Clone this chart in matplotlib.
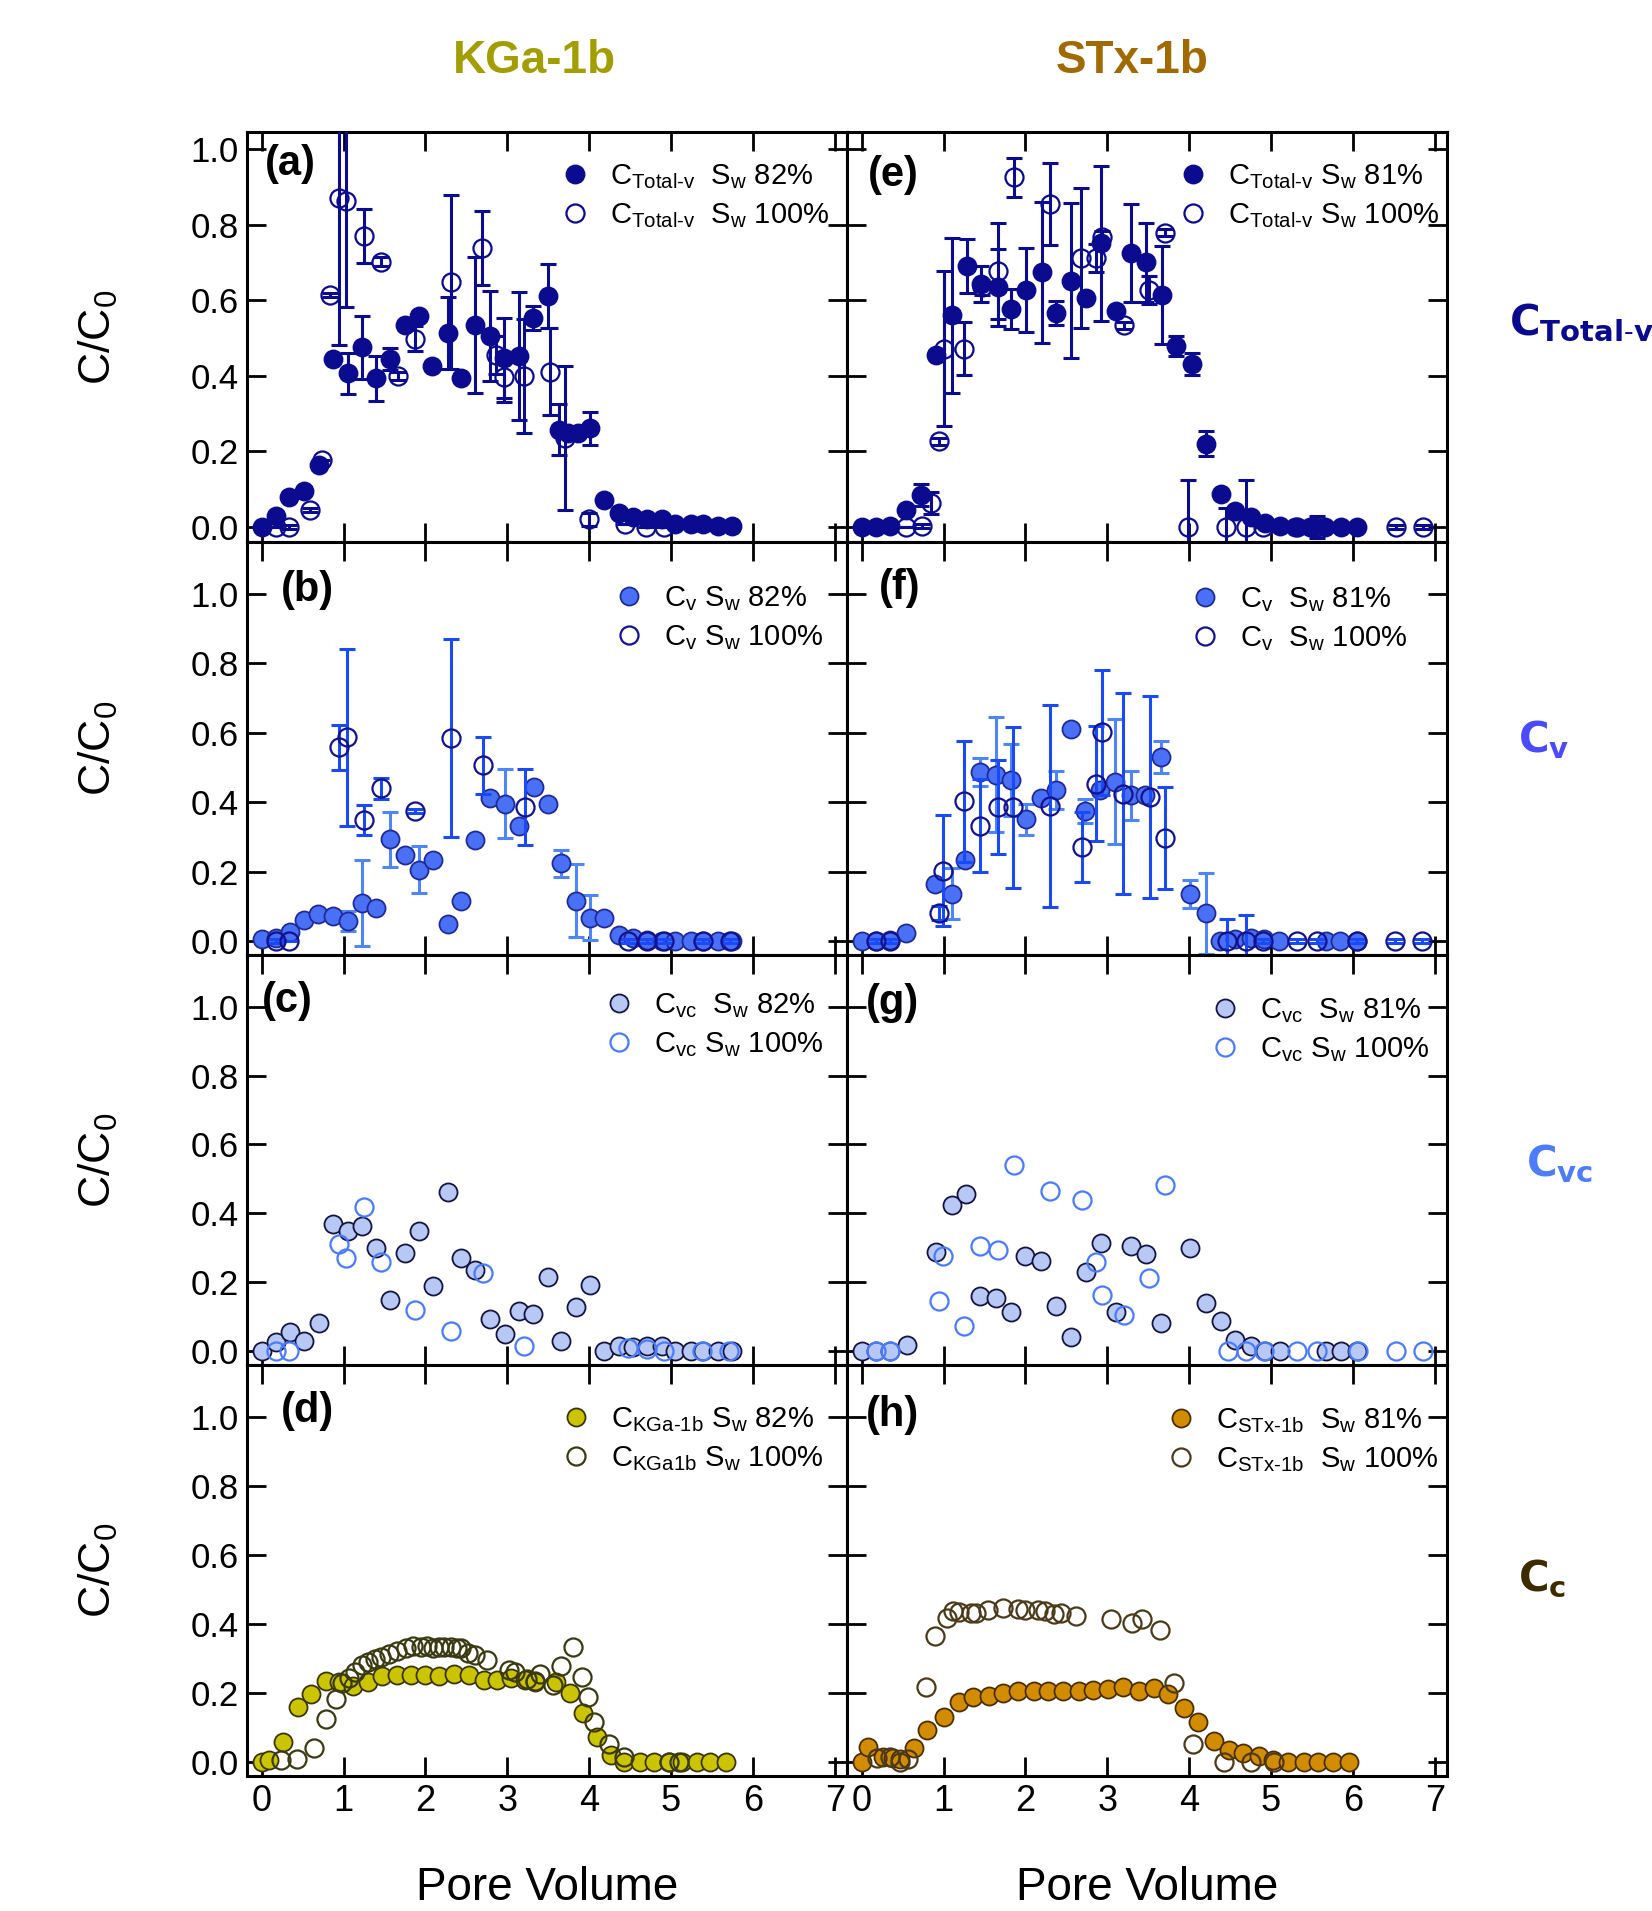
import matplotlib
matplotlib.use("Agg")
import matplotlib.pyplot as plt
from matplotlib.lines import Line2D
import numpy as np

plt.rcParams['font.family'] = ['Liberation Sans', 'DejaVu Sans']
plt.rcParams['mathtext.fontset'] = 'custom'
plt.rcParams['mathtext.rm'] = 'Liberation Sans'
plt.rcParams['mathtext.it'] = 'Liberation Sans:italic'
plt.rcParams['mathtext.bf'] = 'Liberation Sans:bold'
plt.rcParams['mathtext.default'] = 'regular'

# ---------------- data ----------------
# (a) KGa-1b C_Total-v
xa_f = [0.00, 0.18, 0.33, 0.52, 0.70, 0.87, 1.05, 1.22, 1.39, 1.57, 1.75, 1.92, 2.08, 2.27, 2.44, 2.61, 2.79, 2.96, 3.14, 3.31, 3.50, 3.63, 3.74, 3.86, 4.01, 4.18, 4.36, 4.53, 4.71, 4.89, 5.05, 5.24, 5.39, 5.58, 5.75]
ya_f = [0.00, 0.03, 0.08, 0.095, 0.165, 0.444, 0.406, 0.475, 0.393, 0.444, 0.533, 0.557, 0.426, 0.513, 0.393, 0.535, 0.505, 0.447, 0.453, 0.553, 0.612, 0.257, 0.248, 0.248, 0.261, 0.071, 0.038, 0.025, 0.022, 0.02, 0.007, 0.007, 0.007, 0.003, 0.003]
ea_f = [0, 0, 0, 0, 0, 0, 0.054, 0.084, 0.06, 0.03, 0, 0, 0, 0.095, 0, 0.18, 0.118, 0.105, 0.169, 0.032, 0.085, 0.068, 0, 0, 0.043, 0, 0, 0, 0, 0, 0, 0, 0, 0, 0]
xa_o = [0.18, 0.33, 0.59, 0.74, 0.84, 0.94, 1.03, 1.25, 1.46, 1.66, 1.87, 2.31, 2.69, 2.86, 2.96, 3.21, 3.52, 3.70, 4.00, 4.44, 4.70, 4.91]
ya_o = [0.0, 0.0, 0.044, 0.178, 0.614, 0.871, 0.862, 0.770, 0.702, 0.40, 0.498, 0.647, 0.738, 0.454, 0.397, 0.399, 0.41, 0.235, 0.02, 0.007, 0.0, 0.0]
ea_o = [0, 0.005, 0.005, 0, 0.005, 0.39, 0.28, 0.072, 0.011, 0.011, 0.033, 0.23, 0.098, 0.05, 0.066, 0.15, 0.115, 0.19, 0.018, 0, 0, 0]

# (e) STx-1b C_Total-v
xe_f = [0.0, 0.17, 0.35, 0.54, 0.72, 0.91, 1.10, 1.28, 1.46, 1.66, 1.82, 2.01, 2.20, 2.37, 2.56, 2.74, 2.92, 3.11, 3.29, 3.47, 3.67, 3.84, 4.03, 4.20, 4.39, 4.56, 4.75, 4.93, 5.11, 5.29, 5.48, 5.66, 5.85, 6.05]
ye_f = [0.0, 0.0, 0.003, 0.044, 0.084, 0.454, 0.56, 0.691, 0.643, 0.634, 0.577, 0.627, 0.674, 0.566, 0.652, 0.605, 0.75, 0.570, 0.724, 0.70, 0.614, 0.479, 0.432, 0.220, 0.086, 0.042, 0.025, 0.01, 0.003, 0.0, 0.0, 0.0, 0.0, 0.0]
ee_f = [0, 0, 0, 0, 0.03, 0, 0.205, 0.071, 0.048, 0.102, 0.053, 0.11, 0.187, 0.032, 0.205, 0, 0.204, 0, 0.13, 0.104, 0.13, 0.026, 0.029, 0.033, 0, 0, 0, 0, 0, 0, 0.015, 0, 0, 0]
xe_o = [0.54, 0.74, 0.85, 0.94, 1.00, 1.25, 1.47, 1.67, 1.86, 2.30, 2.68, 2.86, 2.94, 3.20, 3.51, 3.71, 3.99, 4.45, 4.70, 4.90, 5.32, 5.56, 6.53, 6.86]
ye_o = [0.0, 0.003, 0.064, 0.226, 0.472, 0.472, 0.634, 0.678, 0.925, 0.854, 0.711, 0.711, 0.766, 0.533, 0.627, 0.779, 0.0, 0.0, 0.0, 0.0, 0.0, 0.0, 0.0, 0.0]
ee_o = [0, 0.005, 0.029, 0.008, 0.205, 0.07, 0.02, 0.127, 0.052, 0.109, 0.186, 0.037, 0.018, 0.01, 0.037, 0.01, 0.125, 0.05, 0.125, 0, 0.01, 0.03, 0.005, 0.005]

# (b) KGa-1b C_v
xb_f = [0.0, 0.18, 0.35, 0.52, 0.69, 0.87, 1.05, 1.22, 1.39, 1.57, 1.75, 1.92, 2.09, 2.27, 2.44, 2.61, 2.79, 2.97, 3.14, 3.33, 3.50, 3.66, 3.84, 4.01, 4.18, 4.36, 4.54, 4.71, 4.89, 5.05, 5.24, 5.39, 5.57, 5.75]
yb_f = [0.005, 0.008, 0.027, 0.061, 0.079, 0.072, 0.058, 0.111, 0.094, 0.293, 0.248, 0.206, 0.235, 0.048, 0.116, 0.292, 0.411, 0.396, 0.333, 0.443, 0.394, 0.224, 0.116, 0.068, 0.068, 0.019, 0.01, 0.002, 0.0, 0.0, 0.0, 0.0, 0.0, 0.0]
eb_f = [0, 0, 0, 0, 0, 0, 0.03, 0.124, 0, 0.08, 0, 0.067, 0, 0, 0, 0, 0, 0.099, 0, 0, 0, 0.038, 0.105, 0.065, 0, 0, 0, 0, 0, 0, 0, 0, 0, 0]
xb_o = [0.18, 0.33, 0.94, 1.04, 1.25, 1.46, 1.87, 2.31, 2.70, 3.22, 4.48, 4.71, 4.92, 5.39, 5.72]
yb_o = [0.0, 0.0, 0.558, 0.587, 0.348, 0.44, 0.375, 0.585, 0.507, 0.386, 0.0, 0.0, 0.0, 0.0, 0.0]
eb_o = [0.005, 0, 0.066, 0.255, 0.043, 0.03, 0.006, 0.285, 0.082, 0.11, 0.005, 0.005, 0.005, 0.005, 0.005]

# (f) STx-1b C_v
xf_f = [0.0, 0.17, 0.34, 0.54, 0.90, 1.10, 1.26, 1.45, 1.64, 1.82, 2.01, 2.19, 2.37, 2.56, 2.73, 2.91, 3.10, 3.29, 3.46, 3.65, 4.01, 4.20, 4.38, 4.56, 4.75, 4.92, 5.10, 5.67, 5.84, 6.05]
yf_f = [0.0, 0.0, 0.003, 0.024, 0.164, 0.137, 0.235, 0.488, 0.48, 0.464, 0.351, 0.413, 0.435, 0.611, 0.374, 0.435, 0.459, 0.42, 0.42, 0.531, 0.135, 0.08, 0.0, 0.005, 0.01, 0.005, 0.0, 0.0, 0.0, 0.0]
ef_f = [0, 0, 0, 0, 0, 0.074, 0, 0.041, 0.166, 0.104, 0.044, 0, 0.054, 0, 0.035, 0, 0.18, 0.07, 0, 0.046, 0.04, 0.116, 0, 0, 0, 0, 0, 0, 0, 0]
xf_o = [0.17, 0.34, 0.94, 0.99, 1.25, 1.45, 1.66, 1.85, 2.30, 2.69, 2.86, 2.93, 3.19, 3.52, 3.70, 4.46, 4.70, 4.90, 5.32, 5.56, 6.05, 6.52, 6.85]
yf_o = [0.0, 0.0, 0.082, 0.203, 0.403, 0.333, 0.386, 0.386, 0.389, 0.271, 0.454, 0.602, 0.425, 0.415, 0.297, 0.0, 0.0, 0.0, 0.0, 0.0, 0.0, 0.0, 0.0]
ef_o = [0.005, 0.005, 0.02, 0.16, 0.174, 0.135, 0.135, 0.232, 0.292, 0.1, 0.165, 0.18, 0.29, 0.292, 0.146, 0.065, 0.075, 0.005, 0.005, 0.005, 0.005, 0.005, 0.005]

# (c) KGa-1b C_vc
xc_f = [0.0, 0.18, 0.35, 0.52, 0.70, 0.87, 1.05, 1.22, 1.39, 1.57, 1.75, 1.92, 2.09, 2.27, 2.44, 2.61, 2.79, 2.97, 3.14, 3.31, 3.50, 3.66, 3.84, 4.01, 4.18, 4.36, 4.53, 4.71, 4.89, 5.05, 5.24, 5.39, 5.57, 5.75]
yc_f = [0.0, 0.027, 0.055, 0.031, 0.082, 0.369, 0.35, 0.362, 0.30, 0.149, 0.285, 0.35, 0.188, 0.461, 0.272, 0.237, 0.094, 0.05, 0.118, 0.108, 0.215, 0.031, 0.128, 0.193, 0.0, 0.014, 0.013, 0.014, 0.014, 0.0, 0.002, 0.002, 0.0, 0.0]
xc_o = [0.18, 0.33, 0.94, 1.03, 1.25, 1.46, 1.87, 2.31, 2.70, 3.21, 4.47, 4.71, 4.92, 5.38, 5.71]
yc_o = [0.0, 0.0, 0.311, 0.271, 0.418, 0.259, 0.119, 0.06, 0.227, 0.014, 0.01, 0.005, 0.0, 0.0, 0.0]

# (g) STx-1b C_vc
xg_f = [0.0, 0.17, 0.35, 0.55, 0.91, 1.10, 1.27, 1.45, 1.64, 1.82, 2.00, 2.19, 2.37, 2.56, 2.74, 2.92, 3.11, 3.29, 3.47, 3.66, 4.01, 4.20, 4.39, 4.56, 4.75, 4.93, 5.11, 5.67, 5.85, 6.05]
yg_f = [0.0, 0.0, 0.0, 0.017, 0.289, 0.424, 0.456, 0.159, 0.154, 0.113, 0.277, 0.262, 0.132, 0.041, 0.23, 0.315, 0.113, 0.304, 0.282, 0.082, 0.299, 0.14, 0.087, 0.034, 0.014, 0.002, 0.002, 0.002, 0.002, 0.002]
xg_o = [0.17, 0.35, 0.94, 0.99, 1.25, 1.45, 1.67, 1.86, 2.30, 2.69, 2.86, 2.93, 3.20, 3.51, 3.70, 4.47, 4.70, 4.92, 5.32, 5.56, 6.06, 6.53, 6.86]
yg_o = [0.0, 0.0, 0.145, 0.275, 0.072, 0.304, 0.294, 0.54, 0.465, 0.439, 0.258, 0.164, 0.106, 0.212, 0.482, 0.0, 0.0, 0.0, 0.0, 0.0, 0.0, 0.0, 0.0]

# (d) KGa-1b colloid
xd_f = [0.0, 0.09, 0.26, 0.44, 0.60, 0.79, 0.94, 1.12, 1.30, 1.47, 1.65, 1.82, 1.99, 2.17, 2.35, 2.53, 2.71, 2.88, 3.04, 3.22, 3.34, 3.59, 3.76, 3.93, 4.09, 4.27, 4.43, 4.62, 4.79, 4.97, 5.14, 5.32, 5.48, 5.67]
yd_f = [0.0, 0.005, 0.058, 0.159, 0.197, 0.236, 0.231, 0.221, 0.231, 0.25, 0.252, 0.253, 0.253, 0.25, 0.255, 0.253, 0.238, 0.238, 0.245, 0.238, 0.231, 0.231, 0.199, 0.141, 0.074, 0.022, 0.0, 0.0, 0.0, 0.0, 0.0, 0.0, 0.0, 0.0]
xd_o = [0.24, 0.43, 0.64, 0.79, 0.91, 0.98, 1.06, 1.14, 1.22, 1.30, 1.38, 1.46, 1.55, 1.65, 1.76, 1.85, 1.94, 2.02, 2.09, 2.17, 2.23, 2.31, 2.38, 2.44, 2.52, 2.60, 2.75, 3.02, 3.10, 3.24, 3.34, 3.40, 3.56, 3.65, 3.80, 3.91, 3.98, 4.06, 4.24, 4.43, 4.98, 5.10]
yd_o = [0.005, 0.01, 0.04, 0.125, 0.183, 0.228, 0.245, 0.262, 0.28, 0.29, 0.30, 0.305, 0.313, 0.322, 0.332, 0.335, 0.334, 0.335, 0.332, 0.334, 0.334, 0.333, 0.332, 0.33, 0.317, 0.31, 0.295, 0.268, 0.26, 0.24, 0.236, 0.255, 0.224, 0.279, 0.334, 0.247, 0.188, 0.117, 0.053, 0.014, 0.0, 0.0]

# (h) STx-1b colloid
xh_f = [0.0, 0.08, 0.26, 0.38, 0.47, 0.64, 0.80, 1.01, 1.19, 1.36, 1.55, 1.73, 1.91, 2.10, 2.28, 2.46, 2.65, 2.83, 3.01, 3.19, 3.39, 3.57, 3.74, 3.94, 4.11, 4.30, 4.49, 4.66, 4.85, 5.03, 5.21, 5.40, 5.58, 5.76, 5.95]
yh_f = [0.0, 0.045, 0.014, 0.012, 0.01, 0.041, 0.092, 0.132, 0.174, 0.188, 0.191, 0.2, 0.207, 0.207, 0.205, 0.207, 0.207, 0.209, 0.212, 0.219, 0.207, 0.214, 0.198, 0.156, 0.116, 0.061, 0.034, 0.026, 0.017, 0.007, 0.0, 0.0, 0.0, 0.0, 0.0]
xh_o = [0.19, 0.35, 0.47, 0.57, 0.79, 0.90, 1.04, 1.11, 1.19, 1.34, 1.40, 1.54, 1.72, 1.91, 2.00, 2.15, 2.24, 2.35, 2.43, 2.62, 3.04, 3.30, 3.43, 3.64, 3.81, 4.05, 4.42, 4.76, 5.04]
yh_o = [0.013, 0.016, 0.0, 0.01, 0.217, 0.364, 0.418, 0.439, 0.434, 0.432, 0.432, 0.441, 0.445, 0.444, 0.441, 0.441, 0.437, 0.429, 0.431, 0.424, 0.415, 0.403, 0.415, 0.383, 0.229, 0.053, 0.0, 0.0, 0.0]

x_ticks = [0, 1, 2, 3, 4, 5, 6, 7]
y_ticks = [0.0, 0.2, 0.4, 0.6, 0.8, 1.0]
col_titles = ["KGa-1b", "STx-1b"]
row_labels = [r"C$_{Total\text{-}v}$", r"C$_v$", r"C$_{vc}$", r"C$_c$"]
panel_letters = ["(a)", "(b)", "(c)", "(d)", "(e)", "(f)", "(g)", "(h)"]
legend_labels = [
    [r"C$_{Total\text{-}v}$  S$_w$ 82%", r"C$_{Total\text{-}v}$  S$_w$ 100%"],
    [r"C$_v$ S$_w$ 82%", r"C$_v$ S$_w$ 100%"],
    [r"C$_{vc}$  S$_w$ 82%", r"C$_{vc}$ S$_w$ 100%"],
    [r"C$_{KGa\text{-}1b}$ S$_w$ 82%", r"C$_{KGa1b}$ S$_w$ 100%"],
    [r"C$_{Total\text{-}v}$ S$_w$ 81%", r"C$_{Total\text{-}v}$ S$_w$ 100%"],
    [r"C$_v$  S$_w$ 81%", r"C$_v$  S$_w$ 100%"],
    [r"C$_{vc}$  S$_w$ 81%", r"C$_{vc}$ S$_w$ 100%"],
    [r"C$_{STx\text{-}1b}$  S$_w$ 81%", r"C$_{STx\text{-}1b}$  S$_w$ 100%"],
]

# ---------------- styles ----------------
NAVY = '#0B0B8F'
styles = {
    'tot': dict(ff=NAVY, fe=NAVY, oe=NAVY, ecf=NAVY, eco=NAVY),
    'v':   dict(ff='#4A70F5', fe='#1F2A99', oe='#12128F', ecf='#4F86F7', eco='#1A4AF5'),
    'vc':  dict(ff='#B8C8F5', fe='#141440', oe='#4A7BFF', ecf=None, eco=None),
    'kga': dict(ff='#CBC400', fe='#3A3500', oe='#3A3A12', ecf=None, eco=None),
    'stx': dict(ff='#D28C00', fe='#4A2E00', oe='#4A3A1A', ecf=None, eco=None),
}

panels = [
    # (col, row, style, xf, yf, ef, xo, yo, eo)
    (0, 0, 'tot', xa_f, ya_f, ea_f, xa_o, ya_o, ea_o),
    (0, 1, 'v', xb_f, yb_f, eb_f, xb_o, yb_o, eb_o),
    (0, 2, 'vc', xc_f, yc_f, None, xc_o, yc_o, None),
    (0, 3, 'kga', xd_f, yd_f, None, xd_o, yd_o, None),
    (1, 0, 'tot', xe_f, ye_f, ee_f, xe_o, ye_o, ee_o),
    (1, 1, 'v', xf_f, yf_f, ef_f, xf_o, yf_o, ef_o),
    (1, 2, 'vc', xg_f, yg_f, None, xg_o, yg_o, None),
    (1, 3, 'stx', xh_f, yh_f, None, xh_o, yh_o, None),
]

W, H = 1652, 1911
fig = plt.figure(figsize=(W / 100, H / 100), dpi=100)

col_x = [247, 847]
col_w = 600
row_edges = [132, 542, 955, 1365, 1776]

# letter positions (px) and legend anchors (right offset px, first row centre offset px)
letter_pos = [(265, 164), (281, 590), (262, 1001), (281, 1411),
              (868, 175), (879, 588), (866, 1003), (866, 1415)]
leg_pos = [(18, 40), (24, 52), (24, 46), (24, 50),
           (8, 40), (40, 53), (18, 51), (8, 51)]

MS = 13
for i, (c, r, sk, xf, yf, ef, xo, yo, eo) in enumerate(panels):
    st = styles[sk]
    top = row_edges[r]
    bot = row_edges[r + 1]
    ax = fig.add_axes([col_x[c] / W, 1 - bot / H, col_w / W, (bot - top) / H])
    ax.set_xlim(-0.18, 7.15)
    if r == 0:
        ax.set_ylim(-0.04, 1.045)
    else:
        ax.set_ylim(-0.04, 1.15)

    # filled series
    if ef is not None:
        xf_a, yf_a, ef_a = np.array(xf), np.array(yf), np.array(ef)
        m = ef_a > 0
        ax.errorbar(xf_a[m], yf_a[m], yerr=ef_a[m], fmt='none', ecolor=st['ecf'],
                    elinewidth=2.2, capsize=6, capthick=2.2, zorder=2)
    ax.plot(xf, yf, 'o', ms=MS, mfc=st['ff'], mec=st['fe'], mew=1.3, zorder=3)
    # open series
    if eo is not None:
        ax.errorbar(xo, yo, yerr=eo, fmt='none', ecolor=st['eco'],
                    elinewidth=2.2, capsize=6, capthick=2.2, zorder=4)
    ax.plot(xo, yo, 'o', ms=MS, mfc='none', mec=st['oe'], mew=1.6, zorder=5)

    ax.set_xticks(x_ticks)
    ax.set_yticks(y_ticks)
    ax.tick_params(direction='in', length=14, width=2, top=True, right=True,
                   labelsize=25, pad=6)
    if c == 0:
        ax.set_yticklabels([f"{v:.1f}" for v in y_ticks])
    else:
        ax.set_yticklabels([])
    if r == 3:
        ax.set_xticklabels([str(v) for v in x_ticks], fontsize=26)
    else:
        ax.set_xticklabels([])
    for sp in ax.spines.values():
        sp.set_linewidth(2.2)

    lx, ly = letter_pos[i]
    ax.text((lx - col_x[c]) / col_w, 1 - (ly - top) / (bot - top), panel_letters[i],
            transform=ax.transAxes, fontsize=30, fontweight='bold', ha='left', va='center')

    handles = [
        Line2D([], [], ls='none', marker='o', ms=MS, mfc=st['ff'], mec=st['fe'], mew=1.3),
        Line2D([], [], ls='none', marker='o', ms=MS, mfc='none', mec=st['oe'], mew=1.6),
    ]
    rx, ry = leg_pos[i]
    ax.legend(handles, legend_labels[i], loc='upper right',
              bbox_to_anchor=(1 - rx / col_w, 1 - (ry - 10) / (bot - top)),
              frameon=False, fontsize=21, borderpad=0, borderaxespad=0,
              handletextpad=0.6, labelspacing=0.36, handlelength=1.2)

    if c == 0:
        fig.text(98 / W, 1 - (top + bot) / 2 / H, r"C/C$_0$", rotation=90,
                 fontsize=32, ha='center', va='center')

# column titles
fig.text(534 / W, 1 - 61 / H, col_titles[0], fontsize=33, fontweight='bold',
         color='#A39E00', ha='center', va='center')
fig.text(1132 / W, 1 - 61 / H, col_titles[1], fontsize=33, fontweight='bold',
         color='#A06A00', ha='center', va='center')

# x labels
for c in range(2):
    fig.text((col_x[c] + col_w / 2) / W, 11 / H, "Pore Volume", fontsize=33,
             ha='center', va='baseline')

# row labels on right
row_lab_pos = [(1509, 323), (1518, 740), (1526, 1164), (1518, 1579)]
row_lab_col = ['#0A0A8E', '#4A4AFF', '#4D7CFF', '#3D2B00']
for (px, py), lab, col in zip(row_lab_pos, row_labels, row_lab_col):
    fig.text(px / W, 1 - py / H, lab, fontsize=30, fontweight='bold', color=col,
             ha='left', va='center', family=['DejaVu Sans'])

fig.savefig("out.png", dpi=100)
